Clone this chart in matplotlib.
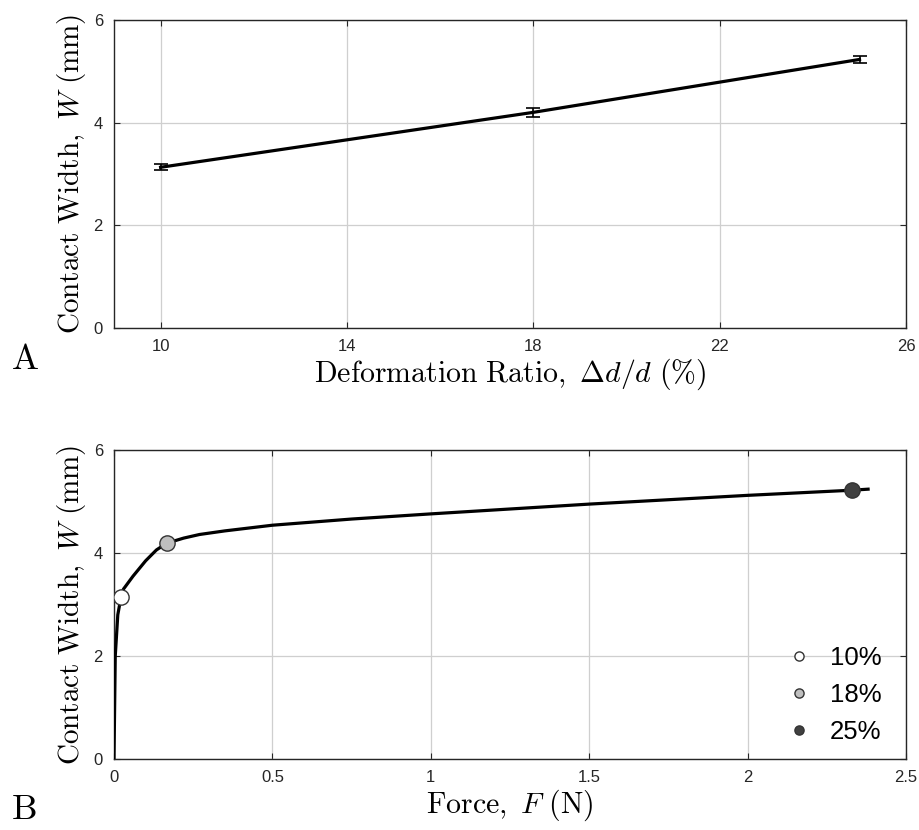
import matplotlib
matplotlib.use("Agg")

import matplotlib.pyplot as plt

# panel A: contact width vs deformation ratio
ratio = [10, 18, 25]
width_a = [3.13, 4.20, 5.23]
width_err = [0.055, 0.09, 0.075]

# panel B: contact width vs force (curve)
force = [0, 0.004, 0.012, 0.022, 0.03, 0.06, 0.10, 0.134, 0.166, 0.22, 0.27,
         0.35, 0.5, 0.75, 1.0, 1.5, 2.0, 2.33, 2.38]
width_b = [0, 2.0, 2.8, 3.14, 3.30, 3.55, 3.85, 4.06, 4.19, 4.29, 4.36,
           4.43, 4.54, 4.66, 4.76, 4.95, 5.12, 5.22, 5.24]
pt_force = [0.022, 0.166, 2.33]
pt_width = [3.14, 4.19, 5.22]
pt_labels = ["10%", "18%", "25%"]
pt_colors = ["white", "#bfbfbf", "#404040"]

plt.rcParams["mathtext.fontset"] = "cm"
tick_font = ["Liberation Sans Narrow", "Liberation Sans", "DejaVu Sans"]
spine_c = "#262626"
grid_c = "#cfcfcf"


def style(ax):
    for s in ax.spines.values():
        s.set_color(spine_c)
        s.set_linewidth(1.0)
    ax.tick_params(direction="in", top=True, right=True, length=4,
                   colors=spine_c, labelsize=12, pad=8)
    for lab in ax.get_xticklabels() + ax.get_yticklabels():
        lab.set_family(tick_font)
    ax.grid(True, color=grid_c, linewidth=0.9)
    ax.set_axisbelow(True)


fig = plt.figure(figsize=(9.2, 8.3), dpi=100)
ax1 = fig.add_axes([0.1239, 0.6048, 0.8610, 0.3712])
ax2 = fig.add_axes([0.1239, 0.0855, 0.8610, 0.3723])

ax1.errorbar(ratio, width_a, yerr=width_err, color="black", lw=2.3,
             capsize=5, elinewidth=1.2, capthick=1.2)
ax1.set_xlim(9, 26)
ax1.set_ylim(0, 6)
ax1.set_xticks([10, 14, 18, 22, 26])
ax1.set_yticks([0, 2, 4, 6])
style(ax1)
ax1.set_xlabel(r"$\mathrm{Deformation\ Ratio,\ }\Delta d/d\ \mathrm{(\%)}$",
               fontsize=21.5, labelpad=2)
ax1.set_ylabel(r"$\mathrm{Contact\ Width,\ }W\ \mathrm{(mm)}$",
               fontsize=21, labelpad=4)

ax2.plot(force, width_b, color="black", lw=2.3, zorder=3)
for f, w, c, lab in zip(pt_force, pt_width, pt_colors, pt_labels):
    ax2.plot(f, w, "o", ms=11, mfc=c, mec="#333333", mew=1.0,
             zorder=4, label=lab)
ax2.set_xlim(0, 2.5)
ax2.set_ylim(0, 6)
ax2.set_xticks([0, 0.5, 1, 1.5, 2, 2.5])
ax2.set_xticklabels(["0", "0.5", "1", "1.5", "2", "2.5"])
ax2.set_yticks([0, 2, 4, 6])
style(ax2)
ax2.set_xlabel(r"$\mathrm{Force,\ }F\ \mathrm{(N)}$", fontsize=21.5, labelpad=2)
ax2.set_ylabel(r"$\mathrm{Contact\ Width,\ }W\ \mathrm{(mm)}$",
               fontsize=21, labelpad=4)
leg = ax2.legend(loc="lower right", frameon=False, markerscale=0.6,
                 prop={"family": ["Liberation Sans", "DejaVu Sans"], "size": 18.5},
                 handletextpad=0.2, labelspacing=0.5,
                 bbox_to_anchor=(0.998, -0.025))

fig.text(0.012, 0.555, r"$\mathrm{A}$", fontsize=26)
fig.text(0.012, 0.013, r"$\mathrm{B}$", fontsize=26)

fig.savefig("out.png", dpi=100)
